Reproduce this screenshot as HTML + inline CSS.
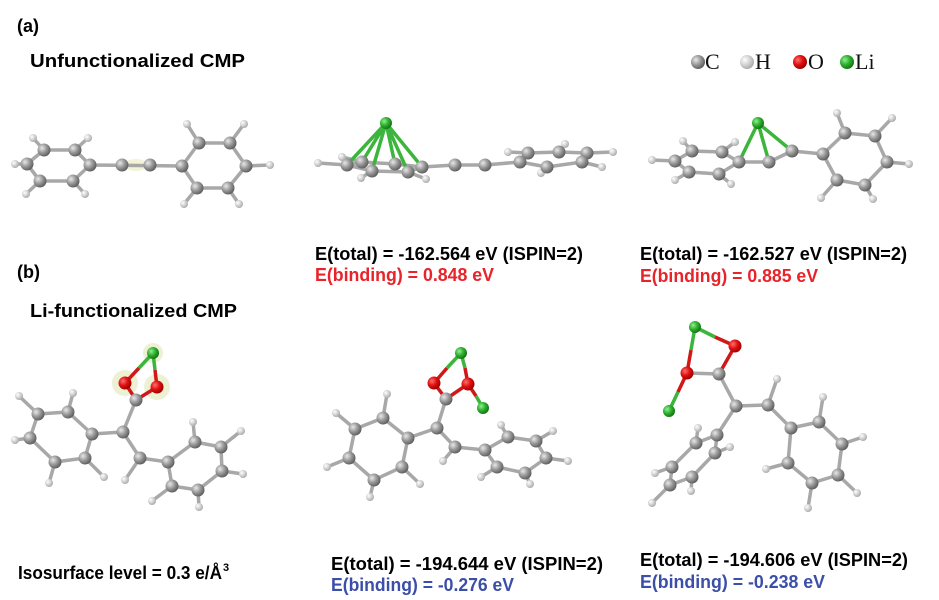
<!DOCTYPE html>
<html><head><meta charset="utf-8"><style>
html,body{margin:0;padding:0;background:#fff;}
svg{display:block;}
.t{font-family:"Liberation Sans",sans-serif;font-weight:bold;font-size:18px;}
.s{font-family:"Liberation Serif",serif;font-size:22px;fill:#111;}
.b{stroke:#a8a8a8;stroke-width:3.5;fill:none;stroke-linejoin:round;}
.g{stroke:#3bb53b;stroke-width:3.5;fill:none;}
.r{stroke:#d01818;stroke-width:3.5;fill:none;}
</style></head><body>
<svg width="939" height="600" viewBox="0 0 939 600" xmlns="http://www.w3.org/2000/svg">
<defs>
<radialGradient id="gc" cx="0.35" cy="0.35" r="0.7"><stop offset="0" stop-color="#e8e8e8"/><stop offset="0.5" stop-color="#9a9a9a"/><stop offset="1" stop-color="#5a5a5a"/></radialGradient>
<radialGradient id="gh" cx="0.35" cy="0.35" r="0.7"><stop offset="0" stop-color="#fff"/><stop offset="1" stop-color="#a8a8a8"/></radialGradient>
<radialGradient id="go" cx="0.35" cy="0.35" r="0.7"><stop offset="0" stop-color="#ff7070"/><stop offset="0.5" stop-color="#e01010"/><stop offset="1" stop-color="#900"/></radialGradient>
<radialGradient id="gl" cx="0.35" cy="0.35" r="0.7"><stop offset="0" stop-color="#90f090"/><stop offset="0.5" stop-color="#30b030"/><stop offset="1" stop-color="#107010"/></radialGradient>
<circle id="C" r="6.5" fill="url(#gc)"/>
<circle id="H" r="4" fill="url(#gh)"/>
<circle id="O" r="6.5" fill="url(#go)"/>
<circle id="L" r="6" fill="url(#gl)"/>
</defs>

<text x="17" y="32" class="t" font-size="21" fill="#000">(a)</text>
<text x="30" y="67" class="t" font-size="19" fill="#000" textLength="215" lengthAdjust="spacingAndGlyphs">Unfunctionalized CMP</text>
<text x="17" y="278" class="t" font-size="21" fill="#000">(b)</text>
<text x="30" y="317" class="t" font-size="19" fill="#000" textLength="207" lengthAdjust="spacingAndGlyphs">Li-functionalized CMP</text>

<circle cx="698" cy="62" r="7" fill="url(#gc)"/><text x="705" y="69" class="s">C</text>
<circle cx="747" cy="62" r="7" fill="url(#gh)"/><text x="755" y="69" class="s">H</text>
<circle cx="800" cy="62" r="7" fill="url(#go)"/><text x="808" y="69" class="s">O</text>
<circle cx="847" cy="62" r="7" fill="url(#gl)"/><text x="855" y="69" class="s">Li</text>

<g>
<ellipse cx="136" cy="165" rx="12" ry="6" fill="#f3f3d8"/>
<path class="b" d="M27,164 L44,150 L75,150 L90,165 L73,181 L40,181 Z M15,164 L27,164 M90,165 L182,166 M182,166 L199,143 L230,143 L246,166 L228,188 L197,188 Z M246,166 L270,165 M44,150 L33,138 M75,150 L88,138 M40,181 L26,194 M73,181 L85,194 M199,143 L187,124 M230,143 L244,124 M197,188 L184,204 M228,188 L239,204"/>
<use href="#H" x="15" y="164"/><use href="#H" x="33" y="138"/><use href="#H" x="88" y="138"/><use href="#H" x="26" y="194"/><use href="#H" x="85" y="194"/>
<use href="#H" x="187" y="124"/><use href="#H" x="244" y="124"/><use href="#H" x="270" y="165"/><use href="#H" x="184" y="204"/><use href="#H" x="239" y="204"/>
<use href="#C" x="27" y="164"/><use href="#C" x="44" y="150"/><use href="#C" x="75" y="150"/><use href="#C" x="90" y="165"/><use href="#C" x="73" y="181"/><use href="#C" x="40" y="181"/>
<use href="#C" x="122" y="165"/><use href="#C" x="150" y="165"/>
<use href="#C" x="182" y="166"/><use href="#C" x="199" y="143"/><use href="#C" x="230" y="143"/><use href="#C" x="246" y="166"/><use href="#C" x="228" y="188"/><use href="#C" x="197" y="188"/>
</g>

<g>
<path class="b" d="M318,163 L347,165 L362,162 L395,164 L422,167 L408,172 L372,171 L347,165 M342,157 L362,162 M361,178 L372,171 M426,179 L408,172 M422,167 L455,165 L485,165 L520,162 M520,162 L528,153 L559,152 L587,153 L582,162 L547,167 Z M508,152 L528,153 M541,173 L547,167 M565,144 L559,152 M602,167 L582,162 M613,152 L587,153"/>
<path class="g" d="M386,123 L347,165 M386,123 L362,162 M386,123 L372,171 M386,123 L395,164 M386,123 L408,172 M386,123 L422,167" stroke-width="3"/>
<use href="#H" x="318" y="163"/><use href="#H" x="342" y="157"/><use href="#H" x="361" y="178"/><use href="#H" x="426" y="179"/><use href="#H" x="508" y="152"/><use href="#H" x="541" y="173"/><use href="#H" x="565" y="144"/><use href="#H" x="602" y="167"/><use href="#H" x="613" y="152"/>
<use href="#C" x="347" y="165"/><use href="#C" x="362" y="162"/><use href="#C" x="395" y="164"/><use href="#C" x="372" y="171"/><use href="#C" x="408" y="172"/><use href="#C" x="422" y="167"/>
<use href="#C" x="455" y="165"/><use href="#C" x="485" y="165"/>
<use href="#C" x="528" y="153"/><use href="#C" x="559" y="152"/><use href="#C" x="587" y="153"/><use href="#C" x="520" y="162"/><use href="#C" x="547" y="167"/><use href="#C" x="582" y="162"/>
<use href="#L" x="386" y="123"/>
</g>

<g>
<path class="b" d="M739,162 L722,152 L692,151 L675,161 L689,172 L719,174 Z M739,162 L769,162 L792,151 L823,154 M823,154 L845,133 L875,136 L887,162 L865,185 L837,180 Z M722,152 L735,142 M692,151 L683,141 M675,161 L652,160 M689,172 L675,180 M719,174 L731,184 M845,133 L837,113 M875,136 L892,118 M887,162 L909,164 M865,185 L873,199 M837,180 L821,198"/>
<path class="g" d="M758,123 L739,162 M758,123 L769,162 M758,123 L792,151"/>
<use href="#H" x="683" y="141"/><use href="#H" x="735" y="142"/><use href="#H" x="652" y="160"/><use href="#H" x="675" y="180"/><use href="#H" x="731" y="184"/><use href="#H" x="837" y="113"/><use href="#H" x="892" y="118"/><use href="#H" x="909" y="164"/><use href="#H" x="873" y="199"/><use href="#H" x="821" y="198"/>
<use href="#C" x="722" y="152"/><use href="#C" x="692" y="151"/><use href="#C" x="675" y="161"/><use href="#C" x="689" y="172"/><use href="#C" x="719" y="174"/><use href="#C" x="739" y="162"/>
<use href="#C" x="769" y="162"/><use href="#C" x="792" y="151"/>
<use href="#C" x="823" y="154"/><use href="#C" x="845" y="133"/><use href="#C" x="875" y="136"/><use href="#C" x="887" y="162"/><use href="#C" x="865" y="185"/><use href="#C" x="837" y="180"/>
<use href="#L" x="758" y="123"/>
</g>

<text x="315" y="260" class="t" fill="#000" textLength="268" lengthAdjust="spacingAndGlyphs">E(total) = -162.564 eV (ISPIN=2)</text>
<text x="315" y="281" class="t" fill="#e8232a" textLength="179" lengthAdjust="spacingAndGlyphs">E(binding) = 0.848 eV</text>
<text x="640" y="260" class="t" fill="#000" textLength="267" lengthAdjust="spacingAndGlyphs">E(total) = -162.527 eV (ISPIN=2)</text>
<text x="640" y="282" class="t" fill="#e8232a" textLength="178" lengthAdjust="spacingAndGlyphs">E(binding) = 0.885 eV</text>

<g>
<circle cx="153" cy="353" r="10" fill="#eef0d4"/><circle cx="125" cy="383" r="13" fill="#eef0d4"/><circle cx="157" cy="387" r="13" fill="#eef0d4"/>
<path class="b" d="M92,434 L68,412 L38,414 L30,438 L55,462 L85,458 Z M92,434 L123,432 L136,400 M123,432 L140,458 L168,462 M168,462 L195,442 L221,447 L222,471 L198,490 L172,486 Z M68,412 L73,393 M38,414 L19,396 M30,438 L15,440 M55,462 L49,483 M85,458 L104,477 M140,458 L125,480 M195,442 L193,422 M221,447 L241,431 M222,471 L243,474 M172,486 L152,501 M198,490 L199,507"/>
<path class="g" d="M153,353 L139,368 M153,353 L155,370"/>
<path class="r" d="M139,368 L125,383 M155,370 L157,387 M125,383 L136,400 L157,387"/>
<use href="#H" x="73" y="393"/><use href="#H" x="19" y="396"/><use href="#H" x="15" y="440"/><use href="#H" x="49" y="483"/><use href="#H" x="104" y="477"/><use href="#H" x="125" y="480"/><use href="#H" x="193" y="422"/><use href="#H" x="241" y="431"/><use href="#H" x="243" y="474"/><use href="#H" x="152" y="501"/><use href="#H" x="199" y="507"/>
<use href="#C" x="92" y="434"/><use href="#C" x="68" y="412"/><use href="#C" x="38" y="414"/><use href="#C" x="30" y="438"/><use href="#C" x="55" y="462"/><use href="#C" x="85" y="458"/>
<use href="#C" x="123" y="432"/><use href="#C" x="136" y="400"/><use href="#C" x="140" y="458"/>
<use href="#C" x="168" y="462"/><use href="#C" x="195" y="442"/><use href="#C" x="221" y="447"/><use href="#C" x="222" y="471"/><use href="#C" x="198" y="490"/><use href="#C" x="172" y="486"/>
<use href="#O" x="125" y="383"/><use href="#O" x="157" y="387"/><use href="#L" x="153" y="353"/>
</g>

<g>
<path class="b" d="M408,438 L383,418 L355,429 L349,458 L374,480 L402,467 Z M408,438 L437,428 L446,399 M437,428 L455,447 L485,450 M485,450 L508,437 L536,441 L546,458 L525,473 L497,467 Z M455,447 L443,461 M383,418 L387,394 M355,429 L336,413 M349,458 L327,467 M402,467 L420,484 M374,480 L370,497 M508,437 L501,425 M536,441 L553,431 M546,458 L568,461 M525,473 L530,484 M497,467 L481,477"/>
<path class="g" d="M461,353 L447,368 M461,353 L465,368 M483,408 L476,396"/>
<path class="r" d="M447,368 L434,383 M465,368 L468,384 M476,396 L468,384 M434,383 L446,399 L468,384"/>
<use href="#H" x="443" y="461"/><use href="#H" x="387" y="394"/><use href="#H" x="336" y="413"/><use href="#H" x="327" y="467"/><use href="#H" x="420" y="484"/><use href="#H" x="370" y="497"/><use href="#H" x="501" y="425"/><use href="#H" x="553" y="431"/><use href="#H" x="568" y="461"/><use href="#H" x="530" y="484"/><use href="#H" x="481" y="477"/>
<use href="#C" x="408" y="438"/><use href="#C" x="383" y="418"/><use href="#C" x="355" y="429"/><use href="#C" x="349" y="458"/><use href="#C" x="374" y="480"/><use href="#C" x="402" y="467"/>
<use href="#C" x="437" y="428"/><use href="#C" x="446" y="399"/><use href="#C" x="455" y="447"/>
<use href="#C" x="485" y="450"/><use href="#C" x="508" y="437"/><use href="#C" x="536" y="441"/><use href="#C" x="546" y="458"/><use href="#C" x="525" y="473"/><use href="#C" x="497" y="467"/>
<use href="#O" x="434" y="383"/><use href="#O" x="468" y="384"/><use href="#L" x="461" y="353"/><use href="#L" x="483" y="408"/>
</g>

<g>
<path class="b" d="M687,373 L719,374 L736,406 L768,405 L791,428 M791,428 L819,422 L842,444 L838,475 L812,483 L788,463 Z M768,405 L777,379 M736,406 L717,435 M717,435 L696,443 L672,467 L670,485 L692,477 L715,453 Z M819,422 L823,397 M842,444 L863,437 M838,475 L857,493 M812,483 L808,508 M788,463 L766,469 M696,443 L698,428 M715,453 L730,447 M672,467 L655,473 M692,477 L691,491 M670,485 L652,503"/>
<path class="g" d="M695,327 L715,337 M695,327 L691,350 M669,411 L678,392"/>
<path class="r" d="M715,337 L735,346 M691,350 L687,373 M678,392 L687,373 M735,346 L719,374"/>
<use href="#H" x="777" y="379"/><use href="#H" x="698" y="428"/><use href="#H" x="730" y="447"/><use href="#H" x="655" y="473"/><use href="#H" x="691" y="491"/><use href="#H" x="652" y="503"/><use href="#H" x="823" y="397"/><use href="#H" x="863" y="437"/><use href="#H" x="857" y="493"/><use href="#H" x="766" y="469"/><use href="#H" x="808" y="508"/>
<use href="#C" x="719" y="374"/><use href="#C" x="736" y="406"/><use href="#C" x="768" y="405"/>
<use href="#C" x="717" y="435"/><use href="#C" x="696" y="443"/><use href="#C" x="715" y="453"/><use href="#C" x="672" y="467"/><use href="#C" x="692" y="477"/><use href="#C" x="670" y="485"/>
<use href="#C" x="791" y="428"/><use href="#C" x="819" y="422"/><use href="#C" x="842" y="444"/><use href="#C" x="838" y="475"/><use href="#C" x="812" y="483"/><use href="#C" x="788" y="463"/>
<use href="#O" x="735" y="346"/><use href="#O" x="687" y="373"/><use href="#L" x="695" y="327"/><use href="#L" x="669" y="411"/>
</g>

<text x="18" y="579" class="t" fill="#000" textLength="204" lengthAdjust="spacingAndGlyphs">Isosurface level = 0.3 e/Å</text>
<text x="223" y="571" class="t" style="font-size:11px" fill="#000">3</text>
<text x="331" y="570" class="t" fill="#000" textLength="272" lengthAdjust="spacingAndGlyphs">E(total) = -194.644 eV (ISPIN=2)</text>
<text x="331" y="591" class="t" fill="#3b4ea8" textLength="183" lengthAdjust="spacingAndGlyphs">E(binding) = -0.276 eV</text>
<text x="640" y="566" class="t" fill="#000" textLength="268" lengthAdjust="spacingAndGlyphs">E(total) = -194.606 eV (ISPIN=2)</text>
<text x="640" y="588" class="t" fill="#3b4ea8" textLength="185" lengthAdjust="spacingAndGlyphs">E(binding) = -0.238 eV</text>
</svg>
</body></html>
